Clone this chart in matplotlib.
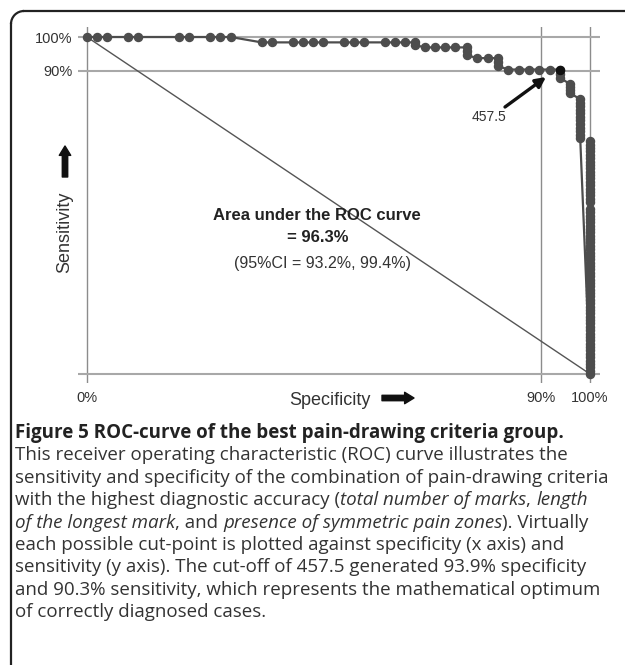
import numpy as np
import matplotlib
matplotlib.use("Agg")
import matplotlib.pyplot as plt
from matplotlib.lines import Line2D
from matplotlib.patches import Arc

# ROC points: specificity (%) and sensitivity (%)
top_spec = [0, 2.0, 4.0, 8.2, 10.2, 18.3, 20.3, 24.4, 26.4, 28.5,
            34.6, 36.6, 40.8, 42.8, 44.9, 46.8, 51.0, 52.9, 54.9, 59.1, 61.1, 63.0, 65.0, 65.0,
            67.0, 69.0, 71.0, 73.0, 75.3, 75.3, 75.3,
            77.3, 79.4, 81.5, 81.5, 81.5,
            83.5, 85.6, 87.7, 89.7, 91.8, 93.9, 93.9, 93.9,
            95.9, 95.9, 95.9, 95.9]
top_sens = [100, 100, 100, 100, 100, 100, 100, 100, 100, 100,
            98.4, 98.4, 98.4, 98.4, 98.4, 98.4, 98.4, 98.4, 98.4, 98.4, 98.4, 98.4, 98.4, 97.6,
            96.9, 96.9, 96.9, 96.9, 96.9, 95.8, 94.6,
            93.7, 93.7, 93.7, 92.5, 91.3,
            90.3, 90.3, 90.3, 90.3, 90.3, 90.3, 89.0, 87.8,
            86.0, 85.1, 84.2, 83.3]
col98_sens = [81.5, 80.5, 79.4, 78.4, 77.3, 76.3, 75.2, 74.2, 73.1, 72.1, 71.0, 70.0]
col100_sens = [0, 1, 2, 3, 4, 5, 6, 7, 8, 9, 10, 11, 12, 13, 14, 15, 16, 17, 18, 19,
               20, 21, 22, 23, 24, 25, 26, 27, 28, 29, 30, 31, 32, 33, 34, 35, 36, 37, 38, 39,
               40, 41, 42, 43, 44, 45, 46, 47, 48, 49, 51, 52, 53, 54, 55, 56, 57, 58, 59,
               60, 61, 62, 63, 64, 65, 66, 67, 68, 69]

cut_spec, cut_sens, cut_label = 93.9, 90.3, "457.5"

x_ticks = [0, 90, 100]
x_labels = ["0%", "90%", "100%"]
y_ticks = [0, 90, 100]
y_labels = ["", "90%", "100%"]

spec = top_spec + [98.0] * len(col98_sens) + [100.0] * len(col100_sens)
sens = top_sens + col98_sens + col100_sens

W, H = 625, 665
plt.rcParams["font.family"] = ["Liberation Sans", "DejaVu Sans"]
fig = plt.figure(figsize=(W / 100, H / 100), dpi=100)


def fx(x):
    return x / W


def fy(y):
    return 1 - y / H


# the original axes are stretched: 0-90% and 90-100% take different lengths
def xfwd(v):
    return np.interp(v, [-50, 0, 90, 100, 150], [-252.2, 0, 454, 503, 748])


def xinv(p):
    return np.interp(p, [-252.2, 0, 454, 503, 748], [-50, 0, 90, 100, 150])


def yfwd(v):
    return np.interp(v, [-50, 0, 90, 100, 150], [-168.6, 0, 303.5, 337, 504.5])


def yinv(p):
    return np.interp(p, [-168.6, 0, 303.5, 337, 504.5], [-50, 0, 90, 100, 150])


ax = fig.add_axes([fx(78), fy(383), (600 - 78) / W, (383 - 27) / H])
ax.set_xscale("function", functions=(xfwd, xinv))
ax.set_yscale("function", functions=(yfwd, yinv))
ax.set_xlim(-1.78, 102.04)
ax.set_ylim(-2.67, 102.99)
for s in ax.spines.values():
    s.set_visible(False)
ax.set_xticks(x_ticks)
ax.set_xticklabels(x_labels)
ax.set_yticks(y_ticks)
ax.set_yticklabels(y_labels)
ax.minorticks_off()
ax.tick_params(axis="x", length=0, pad=6, labelsize=10.5, labelcolor="#333333")
ax.tick_params(axis="y", length=0, pad=4, labelsize=10.5, labelcolor="#333333")
ax.xaxis.grid(True, color="#8c8c8c", lw=1.0)
ax.yaxis.grid(True, color="#a8a8a8", lw=1.5)
ax.set_axisbelow(True)

# chance diagonal
ax.plot([0, 100], [100, 0], color="#555555", lw=1.0, zorder=2)
# ROC curve
ax.plot(spec, sens, color="#4d4d4d", lw=1.6, marker="o", ms=5.8,
        mec="#4d4d4d", mfc="#4d4d4d", zorder=3, clip_on=False)
ax.plot([cut_spec], [cut_sens], "o", color="#111111", ms=5.8, zorder=4)

# cut-off arrow and label
ax.annotate("", xy=(fx(546), fy(77)), xytext=(fx(505), fy(107)),
            xycoords="figure fraction", textcoords="figure fraction",
            arrowprops=dict(arrowstyle="-|>,head_length=0.6,head_width=0.3",
                            color="#111111", lw=2.4, shrinkA=0, shrinkB=0))
fig.text(fx(489), fy(117), cut_label, ha="center", va="center", fontsize=10, color="#333333")

fig.text(fx(317), fy(216), "Area under the ROC curve", ha="center", va="center",
         fontsize=12, fontweight="bold", color="#222222")
fig.text(fx(318), fy(237), "= 96.3%", ha="center", va="center",
         fontsize=12, fontweight="bold", color="#222222")
fig.text(fx(322), fy(263), "(95%CI = 93.2%, 99.4%)", ha="center", va="center",
         fontsize=11.5, color="#333333")

# axis titles with block arrows
fig.text(fx(65), fy(232), "Sensitivity", rotation=90, ha="center", va="center",
         fontsize=13, color="#333333")
ax.annotate("", xy=(fx(65), fy(146)), xytext=(fx(65), fy(177)),
            xycoords="figure fraction", textcoords="figure fraction",
            arrowprops=dict(arrowstyle="simple,head_length=0.45,head_width=0.55,tail_width=0.26",
                            color="#111111", mutation_scale=15, shrinkA=0, shrinkB=0))
fig.text(fx(330), fy(401), "Specificity", ha="center", va="center",
         fontsize=13, color="#333333")
ax.annotate("", xy=(fx(414), fy(398)), xytext=(fx(382), fy(398)),
            xycoords="figure fraction", textcoords="figure fraction",
            arrowprops=dict(arrowstyle="simple,head_length=0.45,head_width=0.55,tail_width=0.26",
                            color="#111111", mutation_scale=15, shrinkA=0, shrinkB=0))

# panel frame: rounded top-left corner, open to the right and bottom
fr_x, fr_top, fr_r = 11, 11, 13
frame_kw = dict(color="#222222", lw=1.6)
fig.add_artist(Line2D([fx(fr_x), fx(fr_x)], [0, fy(fr_top + fr_r)],
                      transform=fig.transFigure, **frame_kw))
fig.add_artist(Line2D([fx(fr_x + fr_r), 1], [fy(fr_top), fy(fr_top)],
                      transform=fig.transFigure, **frame_kw))
fig.add_artist(Arc(((fr_x + fr_r) / 100, (H - fr_top - fr_r) / 100),
                   2 * fr_r / 100, 2 * fr_r / 100, theta1=90, theta2=180,
                   transform=fig.dpi_scale_trans, ec="#222222", lw=1.6))

# caption
cap_font = ["Open Sans", "DejaVu Sans"]
cap_size = 13.5
cap_lines = [
    [("Figure 5 ROC-curve of the best pain-drawing criteria group.", "bold")],
    [("This receiver operating characteristic (ROC) curve illustrates the", "normal")],
    [("sensitivity and specificity of the combination of pain-drawing criteria", "normal")],
    [("with the highest diagnostic accuracy (", "normal"), ("total number of marks", "italic"),
     (", ", "normal"), ("length", "italic")],
    [("of the longest mark", "italic"), (", and ", "normal"),
     ("presence of symmetric pain zones", "italic"), ("). Virtually", "normal")],
    [("each possible cut-point is plotted against specificity (x axis) and", "normal")],
    [("sensitivity (y axis). The cut-off of 457.5 generated 93.9% specificity", "normal")],
    [("and 90.3% sensitivity, which represents the mathematical optimum", "normal")],
    [("of correctly diagnosed cases.", "normal")],
]
y0 = 438
for i, parts in enumerate(cap_lines):
    prev = None
    for txt, style in parts:
        kw = dict(fontsize=cap_size, family=cap_font, color="#333333")
        if style == "bold":
            kw.update(fontweight="bold", color="#222222")
        if style == "italic":
            kw.update(style="italic")
        if prev is None:
            prev = fig.text(fx(15), fy(y0 + 22.4 * i), txt, ha="left", va="baseline", **kw)
        else:
            prev = ax.annotate(txt, xy=(1, 0), xycoords=prev, ha="left", va="bottom", **kw)

fig.savefig("out.png", dpi=100)
